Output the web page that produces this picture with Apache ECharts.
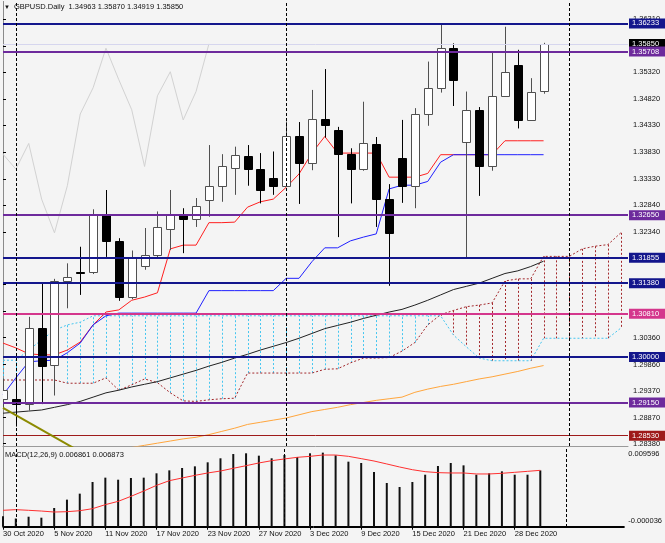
<!DOCTYPE html>
<html><head><meta charset="utf-8">
<script src="https://cdn.jsdelivr.net/npm/echarts@6/dist/echarts.min.js"></script>
<style>html,body{margin:0;padding:0;background:#f4f4f4}#c{width:665px;height:543px}</style>
</head><body><div id="c"></div>
<script>
// ---------- DATA ----------
const dates = ["30 Oct 2020","2 Nov 2020","3 Nov 2020","4 Nov 2020","5 Nov 2020","6 Nov 2020","9 Nov 2020","10 Nov 2020","11 Nov 2020","12 Nov 2020","13 Nov 2020","16 Nov 2020","17 Nov 2020","18 Nov 2020","19 Nov 2020","20 Nov 2020","23 Nov 2020","24 Nov 2020","25 Nov 2020","26 Nov 2020","27 Nov 2020","30 Nov 2020","1 Dec 2020","2 Dec 2020","3 Dec 2020","4 Dec 2020","7 Dec 2020","8 Dec 2020","9 Dec 2020","10 Dec 2020","11 Dec 2020","14 Dec 2020","15 Dec 2020","16 Dec 2020","17 Dec 2020","18 Dec 2020","21 Dec 2020","22 Dec 2020","23 Dec 2020","24 Dec 2020","28 Dec 2020","29 Dec 2020","30 Dec 2020"];
const open  = [1.2921,1.2921,1.2912,1.3054,1.2985,1.3142,1.3159,1.3159,1.3267,1.3216,1.3112,1.3170,1.3191,1.3239,1.3265,1.3258,1.3293,1.3320,1.3353,1.3376,1.3351,1.3334,1.3320,1.3413,1.3363,1.3444,1.3425,1.3379,1.3351,1.3398,1.3295,1.3371,1.3320,1.3454,1.3503,1.3578,1.3402,1.3462,1.3356,1.3488,1.3546,1.3443,1.34963];
const high  = [1.2960,1.2965,1.3075,1.3138,1.3146,1.3175,1.3206,1.3276,1.3312,1.3222,1.3199,1.3241,1.3272,1.3312,1.3278,1.3297,1.3396,1.3379,1.3393,1.3396,1.3381,1.3384,1.3440,1.3439,1.3499,1.3538,1.3430,1.3390,1.3477,1.3411,1.3323,1.3443,1.3465,1.3552,1.3623,1.3586,1.3496,1.3467,1.3570,1.3617,1.3574,1.3521,1.35870];
const low   = [1.2905,1.2870,1.2900,1.2912,1.2928,1.3091,1.3116,1.3155,1.3187,1.3105,1.3108,1.3163,1.3184,1.3200,1.3194,1.3243,1.3262,1.3290,1.3303,1.3320,1.3287,1.3303,1.3318,1.3286,1.3349,1.3410,1.3224,1.3287,1.3348,1.3243,1.3133,1.3288,1.3278,1.3432,1.3494,1.3469,1.3185,1.3301,1.3348,1.3487,1.3427,1.3442,1.34919];
const close = [1.2939,1.2912,1.3054,1.2983,1.3142,1.3150,1.3157,1.3267,1.3216,1.3112,1.3186,1.3191,1.3242,1.3265,1.3258,1.3282,1.3320,1.3356,1.3377,1.3351,1.3312,1.3320,1.3413,1.3362,1.3444,1.3434,1.3379,1.3351,1.3399,1.3295,1.3232,1.3320,1.3454,1.3503,1.3577,1.3518,1.3462,1.3356,1.3488,1.3533,1.3443,1.3496,1.35850];

const tenkan = [1.3026,1.3017,1.3006,1.3004,1.3004,1.3013,1.3028,1.3060,1.3084,1.3088,1.3106,1.3112,1.3120,1.3202,1.3209,1.3209,1.3251,1.3251,1.3252,1.3280,1.3290,1.3295,1.3317,1.3342,1.3381,1.3412,1.3381,1.3381,1.3381,1.3381,1.3336,1.3336,1.3336,1.3343,1.3378,1.3378,1.3378,1.3378,1.3378,1.3404,1.3404,1.3404,1.3404];
const kijun  = [1.2929,1.2961,1.2991,1.2993,1.2994,1.3008,1.3026,1.3060,1.3077,1.3082,1.3082,1.3082,1.3082,1.3082,1.3082,1.3082,1.3124,1.3124,1.3124,1.3124,1.3124,1.3124,1.3147,1.3147,1.3178,1.3204,1.3204,1.3217,1.3224,1.3230,1.3314,1.3321,1.3321,1.3328,1.3364,1.3378,1.3378,1.3378,1.3378,1.3378,1.3378,1.3378,1.3378];
const spanA  = [1.2957,1.2957,1.2957,1.2957,1.2957,1.2951,1.2951,1.2951,1.2961,1.2938,1.2948,1.2959,1.2952,1.2933,1.2918,1.2917,1.2920,1.2922,1.2923,1.2970,1.2970,1.2970,1.2970,1.2970,1.2970,1.2977,1.2978,1.2989,1.2998,1.2998,1.2999,1.3011,1.3027,1.3060,1.3079,1.3087,1.3094,1.3097,1.3101,1.3142,1.3146,1.3146,1.3188,1.3188,1.3188,1.3202,1.3207,1.3210,1.3232];
const spanB  = [1.2994,1.2994,1.3013,1.3032,1.3050,1.3060,1.3065,1.3077,1.3077,1.3077,1.3077,1.3077,1.3077,1.3077,1.3077,1.3077,1.3077,1.3077,1.3077,1.3077,1.3077,1.3077,1.3077,1.3077,1.3077,1.3077,1.3077,1.3077,1.3077,1.3077,1.3077,1.3077,1.3077,1.3077,1.3077,1.3041,1.3019,1.2998,1.2993,1.2993,1.2993,1.2993,1.3035,1.3035,1.3035,1.3035,1.3035,1.3035,1.3054];
const chikou = [1.3379,1.3351,1.3399,1.3295,1.3232,1.3320,1.3454,1.3503,1.3577,1.3518,1.3462,1.3356,1.3488,1.3533,1.3443,1.3496,1.3585];
const maBlack = [1.2895,1.2897,1.2899,1.2901,1.2906,1.2911,1.2917,1.2925,1.2933,1.2938,1.2944,1.2949,1.2954,1.2961,1.2968,1.2975,1.2983,1.2990,1.2998,1.3005,1.3013,1.3020,1.3027,1.3035,1.3044,1.3053,1.3059,1.3065,1.3072,1.3078,1.3084,1.3089,1.3097,1.3106,1.3116,1.3126,1.3132,1.3138,1.3147,1.3156,1.3161,1.3169,1.3179];
const maOrange = [1.2793,1.2797,1.2801,1.2805,1.2809,1.2812,1.2816,1.2820,1.2823,1.2827,1.2831,1.2835,1.2839,1.2843,1.2847,1.2850,1.2855,1.2861,1.2867,1.2874,1.2878,1.2882,1.2886,1.2892,1.2898,1.2902,1.2906,1.2911,1.2915,1.2919,1.2922,1.2925,1.2934,1.2940,1.2945,1.2949,1.2954,1.2959,1.2963,1.2968,1.2973,1.2979,1.2984];
const trendLine = [[0,1.2905],[6,1.2823]];

const macdHist = [0.00126,0.00100,0.00122,0.00110,0.00228,0.00330,0.00403,0.00545,0.00598,0.00573,0.00594,0.00598,0.00651,0.00687,0.00716,0.00736,0.00785,0.00834,0.00886,0.00895,0.00866,0.00834,0.00874,0.00850,0.00895,0.00903,0.00870,0.00793,0.00777,0.00667,0.00533,0.00484,0.00545,0.00634,0.00740,0.00777,0.00748,0.00634,0.00651,0.00675,0.00634,0.00634,0.006861];
const macdSignal = [0.00200,0.00208,0.00200,0.00191,0.00179,0.00183,0.00195,0.00220,0.00269,0.00309,0.00370,0.00435,0.00504,0.00561,0.00594,0.00626,0.00655,0.00679,0.00712,0.00744,0.00777,0.00805,0.00826,0.00846,0.00858,0.00874,0.00874,0.00858,0.00830,0.00801,0.00765,0.00728,0.00695,0.00671,0.00659,0.00655,0.00655,0.00643,0.00643,0.00651,0.00663,0.00675,0.006873];

const levels = [1.36233,1.35708,1.32650,1.31855,1.31380,1.30810,1.30000,1.29150,1.28530];
const levelKinds = ['navy','purple','purple','navy','navy','pink','navy','purple','red'];
const priceTicks = [1.28380,1.28870,1.29370,1.29860,1.30360,1.30850,1.31350,1.31840,1.32340,1.32840,1.33330,1.33830,1.34330,1.34820,1.35320,1.35810,1.36310];
const dateTickIdx = [0,4,8,12,16,20,24,28,32,36,40];
const separatorIdx = [1,22,44];
const macdRange = [-0.000036, 0.009596];

// ---------- STYLE / LAYOUT ----------
const FONT = 'Liberation Sans';
const FS = 7.5;
const kindColor = {navy:'#13168c', purple:'#6d2a9c', pink:'#d4368c', red:'#9e1a1a'};
const kindWidth = {navy:2, purple:2, pink:2, red:1};
const xMin = 0, xMax = 48.56;
const yMin = 1.28337, yMax = 1.36633;
const N = close.length;
const last = N - 1;

const levelLabel = (txt, bg) => ({show:true, position:'end', distance:1, formatter: txt,
  color:'#fff', backgroundColor: bg, fontFamily: FONT, fontSize: FS, padding:[1,3,0,3],
  lineHeight: 9, width: 30, align:'left'});

const markData = [];
markData.push({yAxis: close[last], lineStyle:{color:'#d6d6ee', width:1, type:'solid'},
  label: levelLabel(close[last].toFixed(5), '#000')});
levels.forEach((v,k) => {
  const c = kindColor[levelKinds[k]];
  markData.push({yAxis: v, lineStyle:{color:c, width:kindWidth[levelKinds[k]], type:'solid'}, label: levelLabel(v.toFixed(5), c)});
});
separatorIdx.forEach(i => markData.push({xAxis: i, lineStyle:{color:'#000', width:1, type:[3,2]}, label:{show:false}}));

const candleData = close.map((c,i) => [i, open[i], high[i], low[i], c]);

const chart = echarts.init(document.getElementById('c'), null, {renderer:'canvas'});
chart.setOption({
  animation: false,
  backgroundColor: '#f4f4f4',
  textStyle: {fontFamily: FONT},
  title: [
    {text: 'GBPUSD.Daily  ' + open[last].toFixed(5) + ' ' + high[last].toFixed(5) + ' ' + low[last].toFixed(5) + ' ' + close[last].toFixed(5),
     left: 14, top: 3, padding: 0, textStyle:{fontSize: FS, fontWeight:'normal', color:'#111', fontFamily: FONT}},
    {text: 'MACD(12,26,9) ' + macdHist[last].toFixed(6) + ' ' + macdSignal[last].toFixed(6),
     left: 5, top: 451, padding: 0, textStyle:{fontSize: FS, fontWeight:'normal', color:'#111', fontFamily: FONT}}
  ],
  graphic: [{type:'text', left: 4, top: 4, style:{text:'▼', fontSize: 6, fill:'#111'}}],
  grid: [
    {left: 3, top: 2, width: 625, height: 444},
    {left: 3, top: 448, width: 625, height: 79}
  ],
  xAxis: [
    {type:'value', gridIndex:0, min:xMin, max:xMax, axisLine:{show:true, lineStyle:{color:'#9a9a9a'}}, axisTick:{show:false}, axisLabel:{show:false}, splitLine:{show:false}},
    {type:'value', gridIndex:1, min:xMin, max:xMax, axisLine:{show:true, lineStyle:{color:'#000'}},
      axisTick:{show:true, customValues: dateTickIdx, length:3, lineStyle:{color:'#000'}},
      axisLabel:{show:true, customValues: dateTickIdx, formatter: v => dates[Math.round(v)] || '', align:'left', margin:3, fontSize: FS, color:'#111', fontFamily: FONT},
      splitLine:{show:false}},
    {type:'value', gridIndex:1, position:'top', min:0, max:1, axisLine:{show:true, lineStyle:{color:'#000'}}, axisTick:{show:false}, axisLabel:{show:false}, splitLine:{show:false}}
  ],
  yAxis: [
    {type:'value', gridIndex:0, position:'right', min:yMin, max:yMax,
      axisLine:{show:true, lineStyle:{color:'#000'}},
      axisTick:{show:true, customValues: priceTicks, length:3, lineStyle:{color:'#000'}},
      axisLabel:{show:true, customValues: priceTicks, formatter: v => v.toFixed(5), margin:5, fontSize: FS, color:'#111', fontFamily: FONT},
      splitLine:{show:false}},
    {type:'value', gridIndex:1, position:'right', min:macdRange[0], max:macdRange[1],
      axisLine:{show:true, lineStyle:{color:'#000'}}, axisTick:{show:false},
      axisLabel:{show:true, customValues: macdRange, margin:4, fontSize: FS, color:'#111', fontFamily: FONT,
        formatter: v => v > 0 ? '{t|' + v.toFixed(6) + '}' : '{b|' + v.toFixed(6) + '}',
        rich:{t:{padding:[12,0,0,0], fontSize: FS, fontFamily: FONT, color:'#111'}, b:{padding:[0,0,12,0], fontSize: FS, fontFamily: FONT, color:'#111'}}},
      splitLine:{show:false}},
    {type:'value', gridIndex:0, position:'left', min:0, max:1, axisLine:{show:true, lineStyle:{color:'#8a8a8a'}}, axisTick:{show:false}, axisLabel:{show:false}, splitLine:{show:false}},
    {type:'value', gridIndex:1, position:'left', min:0, max:1, axisLine:{show:true, lineStyle:{color:'#8a8a8a'}}, axisTick:{show:false}, axisLabel:{show:false}, splitLine:{show:false}}
  ],
  series: [
    {name:'cloud', type:'custom', xAxisIndex:0, yAxisIndex:0, z:1, clip:true,
      data: spanA.map((a,i) => [i, a, spanB[i]]), encode:{x:0, y:[1,2]},
      renderItem: (p, api) => {
        const i = api.value(0), a = api.value(1), b = api.value(2);
        const pa = api.coord([i,a]), pb = api.coord([i,b]);
        const x = Math.round(pa[0]) + 0.5;
        return {type:'line', shape:{x1:x, y1:pa[1], x2:x, y2:pb[1]},
          style:{stroke: b > a ? '#45c6f0' : '#a3282c', lineWidth:1, lineDash:[2,2]}};
      }},
    {name:'spanA', type:'line', xAxisIndex:0, yAxisIndex:0, z:2, showSymbol:false, data: spanA.map((v,i)=>[i,v]), lineStyle:{color:'#a3282c', width:1, type:[2,2]}},
    {name:'spanB', type:'line', xAxisIndex:0, yAxisIndex:0, z:2, showSymbol:false, data: spanB.map((v,i)=>[i,v]), lineStyle:{color:'#45c6f0', width:1, type:[2,2]}},
    {name:'maOrange', type:'line', xAxisIndex:0, yAxisIndex:0, z:2, showSymbol:false, data: maOrange.map((v,i)=>[i,v]), lineStyle:{color:'#ffa53c', width:1}},
    {name:'maBlack', type:'line', xAxisIndex:0, yAxisIndex:0, z:2, showSymbol:false, data: maBlack.map((v,i)=>[i,v]), lineStyle:{color:'#222', width:1}},
    {name:'chikou', type:'line', xAxisIndex:0, yAxisIndex:0, z:2, showSymbol:false, data: chikou.map((v,i)=>[i,v]), lineStyle:{color:'#d2d2d2', width:1}},
    {name:'tenkan', type:'line', xAxisIndex:0, yAxisIndex:0, z:3, showSymbol:false, data: tenkan.map((v,i)=>[i,v]), lineStyle:{color:'#ff2020', width:1}},
    {name:'kijun', type:'line', xAxisIndex:0, yAxisIndex:0, z:3, showSymbol:false, data: kijun.map((v,i)=>[i,v]), lineStyle:{color:'#2020ff', width:1}},
    {name:'candles', type:'custom', xAxisIndex:0, yAxisIndex:0, z:4, clip:true,
      data: candleData, encode:{x:0, y:[1,2,3,4]},
      renderItem: (p, api) => {
        const i = api.value(0), o = api.value(1), h = api.value(2), l = api.value(3), c = api.value(4);
        const po = api.coord([i,o]), pc = api.coord([i,c]), ph = api.coord([i,h]), pl = api.coord([i,l]);
        const x = Math.round(po[0]) + 0.5;
        const bull = c >= o;
        const top = Math.round(Math.min(po[1], pc[1])) + 0.5, bot = Math.round(Math.max(po[1], pc[1])) + 0.5;
        const col = bull ? '#505050' : '#000';
        return {type:'group', children:[
          {type:'line', shape:{x1:x, y1:ph[1], x2:x, y2:pl[1]}, style:{stroke:col, lineWidth:1}},
          {type:'rect', shape:{x:x-4, y:top, width:8, height:Math.max(bot-top,1)}, style:{fill: bull ? '#fff' : '#000', stroke: col, lineWidth:1}}
        ]};
      }},
    {name:'trend', type:'line', xAxisIndex:0, yAxisIndex:0, z:5, showSymbol:false, data: trendLine, lineStyle:{color:'#8c8a00', width:2},
      markLine:{symbol:'none', silent:true, animation:false, precision:6, data: markData}},
    {name:'macd', type:'bar', xAxisIndex:1, yAxisIndex:1, barWidth:2, data: macdHist.map((v,i)=>[i,v]), itemStyle:{color:'#111'},
      markLine:{symbol:'none', silent:true, animation:false, precision:6, data: separatorIdx.map(i => ({xAxis:i, lineStyle:{color:'#000', width:1, type:[3,2]}, label:{show:false}}))}},
    {name:'signal', type:'line', xAxisIndex:1, yAxisIndex:1, showSymbol:false, data: macdSignal.map((v,i)=>[i,v]), lineStyle:{color:'#ff3030', width:1}}
  ]
});
</script>
</body></html>
